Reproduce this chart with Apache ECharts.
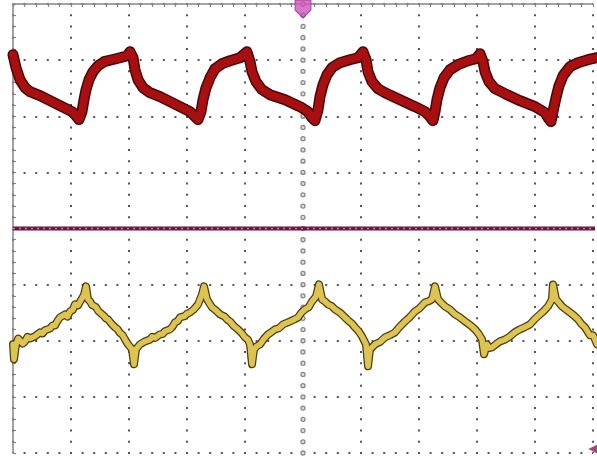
<!DOCTYPE html>
<html>
<head>
<meta charset="utf-8">
<script src="https://cdn.jsdelivr.net/npm/echarts@6/dist/echarts.min.js"></script>
<style>
html,body{margin:0;padding:0;background:#fff;}
#c{width:597px;height:456px;}
</style>
</head>
<body>
<div id="c"></div>
<script>
// Axis: divisions (10 horizontal, 8 vertical)
const xDivs = [0, 10];
const yDivs = [-4, 4];
const centerX = 5;
const minorPerDiv = 5;

// CH1 (red) trace, in divisions
const ch1 = [
[0,3.096],[0.052,2.865],[0.121,2.651],[0.207,2.509],[0.293,2.438],[0.466,2.367],[0.638,2.278],[0.810,2.189],[0.948,2.117],[1.017,2.082],[1.086,2.011],[1.138,1.940],
[1.190,2.082],[1.224,2.295],[1.259,2.473],[1.310,2.651],[1.379,2.794],[1.466,2.900],[1.569,2.972],[1.707,3.007],[1.845,3.043],[1.966,3.078],[2.017,3.149],
[2.069,3.043],[2.103,2.829],[2.155,2.651],[2.241,2.509],[2.362,2.420],[2.534,2.349],[2.707,2.260],[2.879,2.171],[3.052,2.082],[3.138,1.993],[3.190,1.940],
[3.241,2.082],[3.276,2.295],[3.328,2.509],[3.397,2.687],[3.483,2.847],[3.603,2.936],[3.741,2.989],[3.914,3.043],[4.034,3.149],
[4.086,2.972],[4.121,2.794],[4.190,2.616],[4.293,2.473],[4.431,2.384],[4.690,2.295],[4.948,2.171],[5.086,2.082],[5.155,1.975],[5.207,1.922],
[5.259,2.117],[5.293,2.349],[5.345,2.562],[5.414,2.740],[5.500,2.865],[5.638,2.954],[5.810,3.007],[5.948,3.043],[6.034,3.149],
[6.086,3.007],[6.121,2.794],[6.190,2.616],[6.293,2.491],[6.414,2.420],[6.672,2.295],[6.931,2.171],[7.103,2.082],[7.190,1.993],[7.241,1.922],
[7.276,2.082],[7.310,2.295],[7.362,2.509],[7.431,2.687],[7.534,2.829],[7.672,2.918],[7.845,2.989],[7.983,3.025],[8.052,3.114],
[8.103,2.972],[8.138,2.794],[8.207,2.616],[8.310,2.491],[8.483,2.402],[8.741,2.278],[9.000,2.171],[9.172,2.064],[9.224,1.975],[9.276,1.904],
[9.310,2.082],[9.362,2.331],[9.414,2.544],[9.483,2.722],[9.603,2.883],[9.741,2.954],[9.914,3.007],[10.07,3.043]
];

// CH2 (yellow) trace, in divisions
const ch2 = [
[0,-2.064],[0.017,-2.331],[0.052,-2.064],[0.09,-1.96],[0.121,-2.0],[0.17,-2.05],[0.207,-2.011],[0.25,-1.93],[0.293,-1.960],[0.38,-1.92],[0.466,-1.851],[0.51,-1.87],[0.552,-1.813],[0.64,-1.78],[0.68,-1.73],[0.724,-1.728],[0.77,-1.64],[0.810,-1.584],[0.897,-1.530],[0.94,-1.57],[0.983,-1.477],[1.03,-1.45],[1.069,-1.352],[1.12,-1.37],[1.155,-1.307],[1.224,-1.184],[1.259,-1.032],
[1.293,-1.263],[1.33,-1.30],[1.362,-1.362],[1.43,-1.40],[1.47,-1.47],[1.500,-1.495],[1.57,-1.56],[1.60,-1.60],[1.638,-1.619],[1.70,-1.70],[1.759,-1.762],[1.80,-1.79],[1.845,-1.861],[1.89,-1.90],[1.931,-1.975],[1.983,-2.064],[2.052,-2.153],[2.086,-2.420],
[2.121,-2.153],[2.190,-2.064],[2.23,-2.04],[2.276,-2.011],[2.36,-1.98],[2.40,-1.93],[2.448,-1.950],[2.534,-1.886],[2.58,-1.88],[2.62,-1.83],[2.707,-1.797],[2.75,-1.75],[2.793,-1.673],[2.84,-1.65],[2.879,-1.584],[2.96,-1.56],[3.0,-1.52],[3.052,-1.495],[3.12,-1.44],[3.190,-1.352],[3.259,-1.174],[3.293,-1.032],
[3.345,-1.263],[3.39,-1.34],[3.431,-1.406],[3.50,-1.46],[3.569,-1.530],[3.65,-1.57],[3.70,-1.63],[3.741,-1.655],[3.81,-1.74],[3.879,-1.797],[3.94,-1.86],[4.000,-1.940],[4.05,-1.98],[4.086,-2.064],[4.121,-2.420],
[4.155,-2.153],[4.20,-2.10],[4.259,-2.064],[4.33,-1.96],[4.397,-1.886],[4.45,-1.85],[4.517,-1.797],[4.58,-1.78],[4.655,-1.708],[4.70,-1.69],[4.776,-1.655],[4.85,-1.62],[4.914,-1.584],[4.97,-1.50],[5.034,-1.441],[5.10,-1.40],[5.155,-1.299],[5.224,-1.210],[5.276,-0.996],
[5.328,-1.263],[5.38,-1.30],[5.431,-1.352],[5.49,-1.38],[5.552,-1.441],[5.64,-1.50],[5.724,-1.584],[5.78,-1.64],[5.84,-1.69],[5.897,-1.762],[5.96,-1.83],[6.017,-1.922],[6.086,-2.064],[6.121,-2.456],
[6.155,-2.153],[6.241,-2.064],[6.33,-2.02],[6.414,-1.940],[6.50,-1.90],[6.586,-1.851],[6.66,-1.76],[6.759,-1.655],[6.84,-1.58],[6.931,-1.477],[7.0,-1.43],[7.103,-1.317],[7.16,-1.30],[7.224,-1.263],[7.276,-1.032],
[7.328,-1.263],[7.39,-1.33],[7.448,-1.388],[7.53,-1.44],[7.621,-1.530],[7.70,-1.58],[7.793,-1.655],[7.88,-1.72],[7.966,-1.797],[8.03,-1.88],[8.086,-1.975],[8.121,-2.242],
[8.172,-2.064],[8.21,-2.13],[8.259,-2.117],[8.33,-2.06],[8.397,-2.011],[8.48,-1.98],[8.569,-1.922],[8.65,-1.85],[8.741,-1.797],[8.82,-1.76],[8.914,-1.708],[9.0,-1.61],[9.086,-1.530],[9.16,-1.46],[9.224,-1.388],[9.293,-1.263],[9.310,-0.996],
[9.362,-1.263],[9.42,-1.33],[9.466,-1.388],[9.53,-1.44],[9.603,-1.495],[9.67,-1.55],[9.741,-1.619],[9.80,-1.70],[9.862,-1.762],[9.948,-1.904],[10.0,-1.90],[10.034,-1.975],[10.069,-2.064]
];

// CH3 (purple) flat trace at centre
const ch3 = [[0,0],[10.07,0]];

// Markers
const triggerMarker = [[5, 4]];
const groundMarker = [[10.04, -3.93]];

// centre graticule column: one dot per minor division
const centerDots = [];
for (let k = yDivs[0] * minorPerDiv; k <= yDivs[1] * minorPerDiv; k++) {
  centerDots.push([centerX, k / minorPerDiv]);
}

const chart = echarts.init(document.getElementById('c'), null, {renderer:'canvas'});
const borderColor = '#858585';
const dotColor = '#555555';
chart.setOption({
  animation:false,
  backgroundColor:'#ffffff',
  grid:{left:13, right:4, top:4, bottom:3, containLabel:false},
  xAxis:{
    type:'value', min:xDivs[0], max:xDivs[1], interval:1, position:'top',
    axisLine:{show:true, onZero:false, lineStyle:{color:borderColor, width:1.5}},
    axisTick:{show:true, inside:true, length:3, lineStyle:{color:borderColor, width:1.2}},
    minorTick:{show:true, splitNumber:minorPerDiv, length:3, lineStyle:{color:borderColor, width:1.2}},
    axisLabel:{show:false},
    splitLine:{show:true, lineStyle:{color:dotColor, width:2, type:[2, 9.225], dashOffset:1}}
  },
  yAxis:{
    type:'value', min:yDivs[0], max:yDivs[1], interval:1,
    axisLine:{show:true, onZero:false, lineStyle:{color:borderColor, width:1.5}},
    axisTick:{show:true, inside:true, length:3, lineStyle:{color:borderColor, width:1.2}},
    minorTick:{show:true, splitNumber:minorPerDiv, length:3, lineStyle:{color:borderColor, width:1.2}},
    axisLabel:{show:false},
    splitLine:{show:true, lineStyle:{color:dotColor, width:2, type:[2, 9.6], dashOffset:1}}
  },
  series:[
    {type:'scatter', data:centerDots, silent:true, z:2, symbol:'circle', symbolSize:4,
     itemStyle:{color:'#ffffff', borderColor:'#666666', borderWidth:1.3}},
    {type:'line', data:ch3, showSymbol:false, clip:false, silent:true,
     lineStyle:{color:'#6a1640', width:4}, z:3},
    {type:'line', data:ch3, showSymbol:false, clip:false, silent:true,
     lineStyle:{color:'#c580aa', width:1.5, type:[2,4]}, z:4},
    {type:'line', data:ch1, showSymbol:false, clip:false, silent:true,
     lineStyle:{color:'#4c0505', width:11, join:'round', cap:'round'}, z:5},
    {type:'line', data:ch1, showSymbol:false, clip:false, silent:true,
     lineStyle:{color:'#a80f10', width:8, join:'round', cap:'round'}, z:6},
    {type:'line', data:ch2, showSymbol:false, clip:false, silent:true,
     lineStyle:{color:'#4d3c0c', width:8, join:'round', cap:'round'}, z:5},
    {type:'line', data:ch2, showSymbol:false, clip:false, silent:true,
     lineStyle:{color:'#dcc352', width:5.5, join:'round', cap:'round'}, z:6},
    {type:'scatter', data:triggerMarker, clip:false, silent:true, z:10,
     symbol:'path://M0,0 L16,0 L16,10 L8,18 L0,10 Z', symbolSize:[16,18], symbolOffset:[0,5],
     itemStyle:{color:'#cc55bb', borderColor:'#9a2a88', borderWidth:1}},
    {type:'scatter', data:groundMarker, clip:false, silent:true, z:10,
     symbol:'triangle', symbolRotate:90, symbolSize:14,
     itemStyle:{color:'#8a1b55'}}
  ]
});
</script>
</body>
</html>
